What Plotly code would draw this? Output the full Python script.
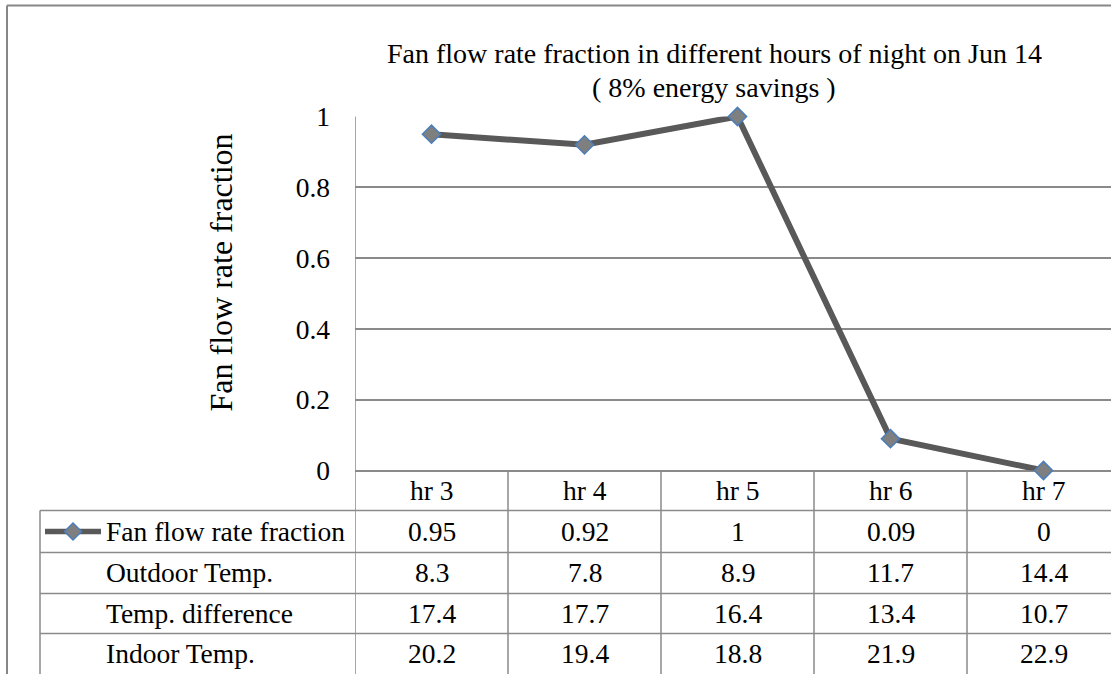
import plotly.graph_objects as go

# ---- data ----
hours = ["hr 3", "hr 4", "hr 5", "hr 6", "hr 7"]
fan_fraction = [0.95, 0.92, 1, 0.09, 0]
outdoor_temp = [8.3, 7.8, 8.9, 11.7, 14.4]
temp_difference = [17.4, 17.7, 16.4, 13.4, 10.7]
indoor_temp = [20.2, 19.4, 18.8, 21.9, 22.9]
row_labels = ["Fan flow rate fraction", "Outdoor Temp.", "Temp. difference", "Indoor Temp."]
title_line1 = "Fan flow rate fraction in different hours of night on Jun 14"
title_line2 = "( 8% energy savings )"
y_title = "Fan flow rate fraction"

W, H = 1111, 674
FONT = "Liberation Serif, Times New Roman, serif"
GRID = "#8a8a8a"
LINE_C = "#595959"

# observed on-screen vertical placement of the paper area
TOP, SPAN = 14.5, 643.0


def px(x):
    return x / W


def py(y):
    return 1 - (y - TOP) / SPAN


n = len(hours)
idx = list(range(n))

fig = go.Figure()
fig.add_trace(go.Scatter(
    x=idx, y=fan_fraction, mode="lines+markers",
    line=dict(color=LINE_C, width=6),
    marker=dict(symbol="diamond", size=14, color="#7f7f7f",
                line=dict(color="#4a7ebb", width=1.5)),
    showlegend=False, cliponaxis=False,
))

shapes = []
annotations = []

# outer chart border (left and top edges visible)
shapes.append(dict(type="line", xref="paper", yref="paper",
                   x0=px(7), x1=px(7), y0=-0.1, y1=py(5),
                   line=dict(color="#878787", width=2)))
shapes.append(dict(type="line", xref="paper", yref="paper",
                   x0=px(7), x1=1.05, y0=py(5), y1=py(5),
                   line=dict(color="#878787", width=2)))

# left vertical axis line continuing through table
shapes.append(dict(type="line", xref="x", yref="paper", x0=-0.5, x1=-0.5,
                   y0=py(116), y1=-0.1, line=dict(color=GRID, width=1.5)))

# table row lines
row_tops = [510, 552, 593, 633]
for yy in row_tops:
    shapes.append(dict(type="line", xref="paper", yref="paper",
                       x0=px(40), x1=1.05, y0=py(yy), y1=py(yy),
                       line=dict(color=GRID, width=1.5)))
# left border of table label column
shapes.append(dict(type="line", xref="paper", yref="paper",
                   x0=px(40), x1=px(40), y0=py(510), y1=-0.1,
                   line=dict(color=GRID, width=1.5)))
# column separators
for k in range(n - 1):
    shapes.append(dict(type="line", xref="x", yref="paper",
                       x0=k + 0.5, x1=k + 0.5, y0=py(470), y1=-0.1,
                       line=dict(color=GRID, width=1.5)))

# legend key in table
shapes.append(dict(type="line", xref="paper", yref="paper",
                   x0=px(45), x1=px(101), y0=py(531), y1=py(531),
                   line=dict(color=LINE_C, width=5.5)))
cx, cy, r = 73, 531, 8.5
shapes.append(dict(type="path", xref="paper", yref="paper",
                   path=f"M {px(cx-r)},{py(cy)} L {px(cx)},{py(cy-r)} L {px(cx+r)},{py(cy)} L {px(cx)},{py(cy+r)} Z",
                   fillcolor="#7f7f7f", line=dict(color="#4a7ebb", width=1.5)))

# header labels
for k, h in enumerate(hours):
    annotations.append(dict(x=k, y=py(490), xref="x", yref="paper", text=h,
                            showarrow=False, xanchor="center", yanchor="middle",
                            font=dict(size=27.5, color="black", family=FONT)))

rows = [fan_fraction, outdoor_temp, temp_difference, indoor_temp]
row_centers = [531, 572, 613, 653]
for label, vals, yc in zip(row_labels, rows, row_centers):
    annotations.append(dict(x=px(104), y=py(yc), xref="paper", yref="paper",
                            text=label, showarrow=False, xanchor="left",
                            yanchor="middle",
                            font=dict(size=27.5, color="black", family=FONT)))
    for k, v in enumerate(vals):
        annotations.append(dict(x=k, y=py(yc), xref="x", yref="paper",
                                text=f"{v:g}", showarrow=False,
                                xanchor="center", yanchor="middle",
                                font=dict(size=27.5, color="black", family=FONT)))

# title
annotations.append(dict(x=px(714), y=py(53), xref="paper", yref="paper",
                        text=title_line1, showarrow=False, xanchor="center",
                        yanchor="middle", font=dict(size=28, color="black", family=FONT)))
annotations.append(dict(x=px(714), y=py(87), xref="paper", yref="paper",
                        text=title_line2, showarrow=False, xanchor="center",
                        yanchor="middle", font=dict(size=28, color="black", family=FONT)))
# y axis title
annotations.append(dict(x=px(220), y=py(272), xref="paper", yref="paper",
                        text=y_title, showarrow=False, textangle=-90,
                        xanchor="center", yanchor="middle",
                        font=dict(size=32, color="black", family=FONT)))

fig.update_layout(
    width=W, height=H,
    margin=dict(l=0, r=0, t=0, b=0, pad=0),
    paper_bgcolor="white", plot_bgcolor="white",
    shapes=shapes, annotations=annotations,
    xaxis=dict(domain=[px(355), 1], range=[-0.5, -0.5 + (W - 355) / 153.0],
               showticklabels=False, showgrid=False, zeroline=False,
               showline=False, fixedrange=True),
    yaxis=dict(domain=[py(470), py(116)], range=[0, 1], dtick=0.2, tick0=0,
               showgrid=True, gridcolor=GRID, gridwidth=1.5,
               zeroline=True, zerolinecolor=GRID, zerolinewidth=1.5,
               showline=False, ticks="", ticklabelstandoff=24,
               tickfont=dict(size=27.5, color="black", family=FONT),
               fixedrange=True),
)

fig.write_html("out.html")
